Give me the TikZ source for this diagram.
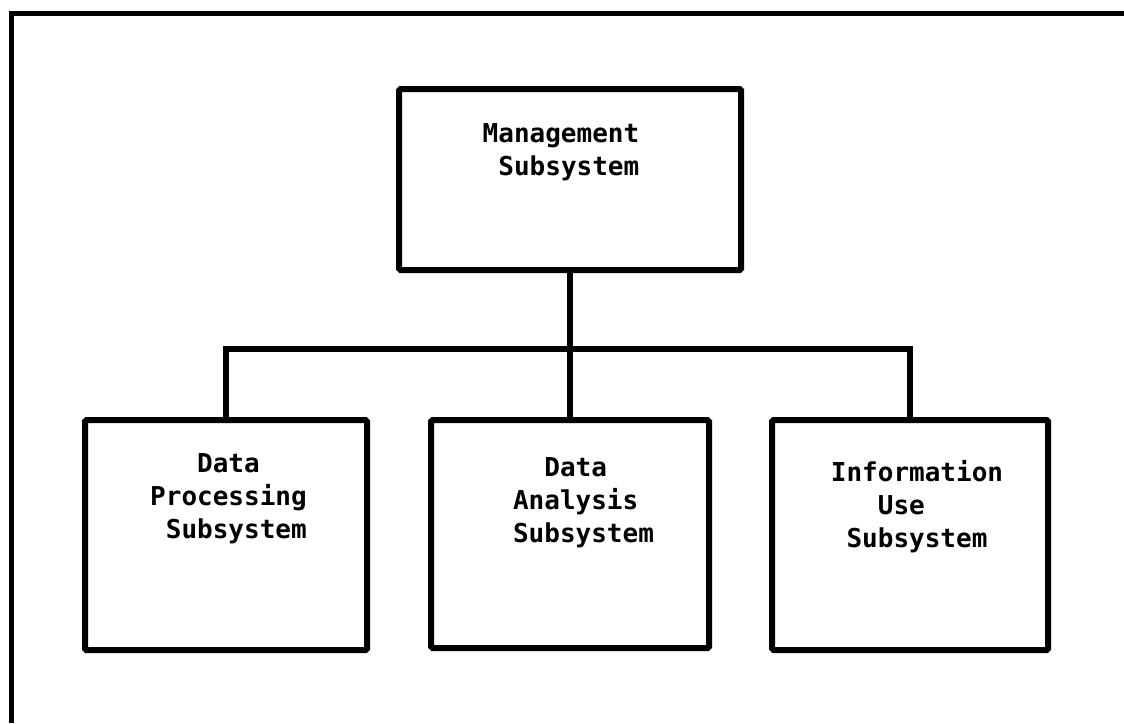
\documentclass[tikz,border=0pt]{standalone}
\usepackage{fontspec}
\setmonofont{DejaVu Sans Mono}
\begin{document}
\begin{tikzpicture}[x=1pt,y=-1pt,
  box/.style={draw, line width=6pt, rounded corners=1.5pt, inner sep=0pt, outer sep=0pt},
  lbl/.style={align=left, inner sep=0pt, font=\fontsize{26}{33}\selectfont\ttfamily\bfseries},
  link/.style={line width=6pt, line join=miter}]
\useasboundingbox (0,0) rectangle (1124,723);
\fill[white] (0,0) rectangle (1124,723);
% outer frame
\draw[line width=5pt] (11,723) -- (11,13) -- (1124,13);
% boxes
\node[box, minimum width=342pt, minimum height=181pt] (mgmt) at (570,179.5) {};
\node[box, minimum width=282pt, minimum height=230pt] (dp) at (226,535) {};
\node[box, minimum width=278pt, minimum height=228pt] (da) at (570,534) {};
\node[box, minimum width=276pt, minimum height=230pt] (iu) at (910,535) {};
% labels
\node[lbl] (tmgmt) at (561,152) {Management\\~Subsystem};
\node[lbl] (tdp) at (228.5,499) {~~~Data\\Processing\\~Subsystem};
\node[lbl] (tda) at (583.5,503) {~~Data\\Analysis\\Subsystem};
\node[lbl] (tiu) at (917,507) {Information\\~~~Use\\~Subsystem};
% connectors
\coordinate (jn) at (570,349);
\draw[link] (mgmt.south) -- (da.north);
\draw[link] (dp.north) |- (jn) -| (iu.north);
\end{tikzpicture}
\end{document}
